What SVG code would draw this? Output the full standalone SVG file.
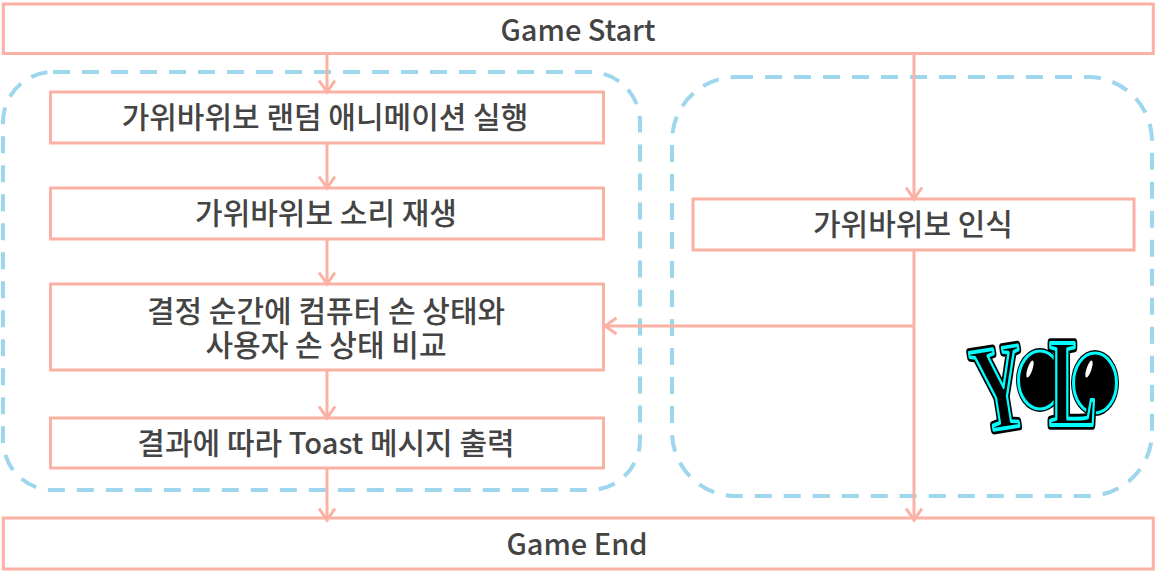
<svg xmlns="http://www.w3.org/2000/svg" width="1156" height="579" viewBox="0 0 1156 579">
<style>
.b{fill:#fff;stroke:#fbb1a3;stroke-width:3}
.c{fill:none;stroke:#fbb1a3;stroke-width:3;marker-end:url(#a)}
.d{fill:none;stroke:#9ed6ee;stroke-width:4;stroke-dasharray:17 12}
.t{font-family:"Noto Sans CJK KR","Noto Sans",sans-serif;font-weight:500;font-size:30px;fill:#444;text-anchor:middle}
.l{font-size:29px}
.y{font-family:"Liberation Serif",serif;font-weight:700;font-size:100px;text-anchor:middle}
.y1{fill:none;stroke:#000;stroke-width:7.500;stroke-linejoin:round}
.y2{fill:#000;stroke:#0ff;stroke-width:3;stroke-linejoin:round}
</style>
<defs>
<marker id="a" markerUnits="userSpaceOnUse" markerWidth="26" markerHeight="26" refX="19" refY="13" orient="auto">
<path d="M6.500 5L18 13L6.500 21" fill="none" stroke="#fbb1a3" stroke-width="3"/>
</marker>
</defs>
<g id="groups">
<rect id="group-left" class="d" x="3" y="72" width="637" height="418" rx="50"/>
<rect id="group-right" class="d" x="672" y="77" width="480" height="419" rx="64"/>
</g>
<g id="node-start"><rect class="b" x="3.300" y="4" width="1150" height="49.500"/><text class="t l" x="578" y="41">Game Start</text></g>
<g id="node-anim"><rect class="b" x="50.500" y="92" width="553" height="51"/><text class="t" x="325" y="128">가위바위보 랜덤 애니메이션 실행</text></g>
<g id="node-sound"><rect class="b" x="50.500" y="188" width="553" height="51"/><text class="t" x="326" y="224">가위바위보 소리 재생</text></g>
<g id="node-compare"><rect class="b" x="50.500" y="284" width="553" height="86"/><text class="t"><tspan x="326" y="322">결정 순간에 컴퓨터 손 상태와</tspan><tspan x="326" y="356">사용자 손 상태 비교</tspan></text></g>
<g id="node-toast"><rect class="b" x="50.500" y="418" width="553" height="50"/><text class="t" x="326" y="454">결과에 따라 <tspan class="l">Toast</tspan> 메시지 출력</text></g>
<g id="node-detect"><rect class="b" x="693" y="199" width="441" height="51"/><text class="t" x="913" y="235">가위바위보 인식</text></g>
<g id="node-end"><rect class="b" x="3.300" y="518" width="1150" height="51"/><text class="t l" x="577" y="555">Game End</text></g>
<g id="connectors">
<path class="c" d="M327 53V93"/>
<path class="c" d="M327 143V189"/>
<path class="c" d="M327 239V285"/>
<path class="c" d="M327 370V419"/>
<path class="c" d="M327 468V521"/>
<path class="c" d="M914 53V200"/>
<path class="c" d="M914 250V521"/>
<path class="c" d="M914 326H604"/>
</g>
<g id="logo">
<g transform="translate(1006 428) rotate(-9) scale(0.72 1.22)"><text class="y y1" x="0" y="0">Y</text><text class="y y2" x="0" y="0">Y</text></g>
<ellipse cx="1040" cy="380" rx="24" ry="32" fill="#000"/>
<ellipse cx="1040" cy="380" rx="21.500" ry="29" fill="#000" stroke="#0ff" stroke-width="3"/>
<ellipse cx="1030" cy="369" rx="2.500" ry="9" transform="rotate(18 1030 369)" fill="#fff"/>
<ellipse cx="1095" cy="383" rx="24" ry="33" fill="#000"/>
<ellipse cx="1095" cy="383" rx="21.500" ry="30" fill="#000" stroke="#0ff" stroke-width="3"/>
<ellipse cx="1089" cy="369" rx="2.500" ry="9" transform="rotate(18 1089 369)" fill="#fff"/>
<g transform="translate(1073 425) scale(0.72 1.26)"><text class="y y1" x="0" y="0">L</text><text class="y y2" x="0" y="0">L</text></g>
</g>
</svg>
